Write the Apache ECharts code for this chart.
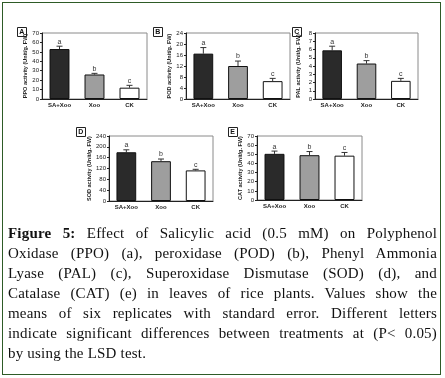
<!DOCTYPE html>
<html><head><meta charset="utf-8">
<script src="https://cdn.jsdelivr.net/npm/echarts@6/dist/echarts.min.js"></script>
<style>
html,body{margin:0;padding:0;background:#fff;}
#wrap{position:relative;width:445px;height:378px;}
#chart{position:absolute;left:0;top:0;width:445px;height:378px;}
#frame{position:absolute;left:2px;top:2px;width:437px;height:371px;border:1.5px solid #2e5b27;box-sizing:content-box;pointer-events:none;}
#cap{position:absolute;left:8px;top:223px;width:429px;font-family:"Liberation Serif","Times New Roman",serif;font-size:15px;line-height:20px;color:#111;letter-spacing:0.2px;}
#cap div{text-align:justify;text-align-last:justify;white-space:nowrap;}
#cap div.last{text-align-last:left;}
</style></head>
<body><div id="wrap"><div id="chart"></div><div id="frame"></div><div id="cap"></div></div>
<script>
// ---- data ----
const categories = ['SA+Xoo', 'Xoo', 'CK'];
const ppoMean = [53, 26, 12];   const ppoErr = [3, 1.2, 2.5];  const ppoLetters = ['a', 'b', 'c'];
const podMean = [16.5, 12, 6.5]; const podErr = [2.2, 1.8, 1.0]; const podLetters = ['a', 'b', 'c'];
const palMean = [5.9, 4.3, 2.2]; const palErr = [0.5, 0.35, 0.3]; const palLetters = ['a', 'b', 'c'];
const sodMean = [180, 147, 113]; const sodErr = [9, 8, 4];       const sodLetters = ['a', 'b', 'c'];
const catMean = [50.5, 49, 48.5]; const catErr = [3, 4, 3.5];    const catLetters = ['a', 'b', 'c'];
const panelLetters = ['A', 'B', 'C', 'D', 'E'];
const yTitles = ['PPO activity (Unit/g. FW)', 'POD activity (Unit/g. FW)', 'PAL activity (Unit/g. FW)', 'SOD activity (Unit/g. FW)', 'CAT activity (Unit/g. FW)'];
const yMax = [70, 24, 8, 240, 70];
const yStep = [10, 4, 1, 40, 10];
const captionLines = [
  '<b>Figure 5:</b> Effect of Salicylic acid (0.5 mM) on Polyphenol',
  'Oxidase (PPO) (a), peroxidase (POD) (b), Phenyl Ammonia',
  'Lyase (PAL) (c), Superoxidase Dismutase (SOD) (d), and',
  'Catalase (CAT) (e) in leaves of rice plants. Values show the',
  'means of six replicates with standard error. Different letters',
  'indicate significant differences between treatments at (P< 0.05)',
  'by using the LSD test.'
];

// ---- layout / style ----
const means = [ppoMean, podMean, palMean, sodMean, catMean];
const errs = [ppoErr, podErr, palErr, sodErr, catErr];
const letters = [ppoLetters, podLetters, palLetters, sodLetters, catLetters];
const gridPos = [
  {left: 42, top: 33, width: 105, height: 66},
  {left: 186, top: 33, width: 104, height: 66},
  {left: 315, top: 33, width: 103, height: 66},
  {left: 109, top: 136, width: 104, height: 65},
  {left: 257, top: 136, width: 105, height: 64}
];
const boxPos = [[17, 27], [153, 27], [292, 27], [76, 127], [228, 127]];
const barColors = ['#2a2a2a', '#9e9e9e', '#ffffff'];
const FONT = 'Liberation Sans, Arial, sans-serif';

const grids = [], xAxes = [], yAxes = [], series = [], graphics = [];
for (let p = 0; p < 5; p++) {
  grids.push(Object.assign({show: true, borderColor: '#8a8a8a', borderWidth: 1, backgroundColor: 'transparent'}, gridPos[p]));
  xAxes.push({
    type: 'category', gridIndex: p, data: categories,
    axisLine: {lineStyle: {color: '#222', width: 1}},
    axisTick: {alignWithLabel: true, length: 2, lineStyle: {color: '#222'}},
    axisLabel: {fontSize: 6, fontWeight: 'bold', color: '#222', margin: 3, fontFamily: FONT}
  });
  yAxes.push({
    type: 'value', gridIndex: p, min: 0, max: yMax[p], interval: yStep[p],
    name: yTitles[p], nameLocation: 'middle', nameRotate: 90, nameGap: 14,
    nameTextStyle: {fontSize: 5.5, fontWeight: 'bold', color: '#222', fontFamily: FONT},
    axisLine: {show: true, lineStyle: {color: '#222', width: 1}},
    axisTick: {show: true, length: 2, lineStyle: {color: '#222'}},
    splitLine: {show: false},
    axisLabel: {fontSize: 6, color: '#222', margin: 3, fontFamily: FONT}
  });
  series.push({
    type: 'bar', xAxisIndex: p, yAxisIndex: p, barWidth: '57%',
    data: means[p].map((v, i) => ({value: v, itemStyle: {color: barColors[i], borderColor: '#111', borderWidth: 1}})),
    silent: true
  });
  const lt = letters[p];
  series.push({
    type: 'custom', xAxisIndex: p, yAxisIndex: p, silent: true,
    data: means[p].map((v, i) => [i, v, errs[p][i]]),
    encode: {x: 0, y: 1},
    renderItem: function (params, api) {
      const b = api.coord([api.value(0), api.value(1)]);
      const t = api.coord([api.value(0), api.value(1) + api.value(2)]);
      const st = {stroke: '#333', lineWidth: 1};
      return {type: 'group', children: [
        {type: 'line', shape: {x1: b[0], y1: b[1], x2: t[0], y2: t[1]}, style: st},
        {type: 'line', shape: {x1: t[0] - 3, y1: t[1], x2: t[0] + 3, y2: t[1]}, style: st},
        {type: 'text', x: t[0], y: t[1] - 1, style: {text: lt[params.dataIndex], fontSize: 7, fill: '#333', align: 'center', verticalAlign: 'bottom', fontFamily: FONT}}
      ]};
    }
  });
  graphics.push({type: 'rect', left: boxPos[p][0], top: boxPos[p][1], shape: {width: 9, height: 9}, style: {fill: '#fff', stroke: '#222', lineWidth: 1}});
  graphics.push({type: 'text', left: boxPos[p][0] + 2.2, top: boxPos[p][1] + 1.5, style: {text: panelLetters[p], fontSize: 7, fontWeight: 'bold', fill: '#111', fontFamily: FONT}});
}

const chart = echarts.init(document.getElementById('chart'), null, {renderer: 'canvas'});
chart.setOption({
  animation: false,
  backgroundColor: '#fff',
  grid: grids, xAxis: xAxes, yAxis: yAxes, series: series, graphic: graphics
});

const cap = document.getElementById('cap');
captionLines.forEach((l, i) => {
  const d = document.createElement('div');
  d.innerHTML = l;
  if (i === captionLines.length - 1) d.className = 'last';
  cap.appendChild(d);
});
</script></body></html>
